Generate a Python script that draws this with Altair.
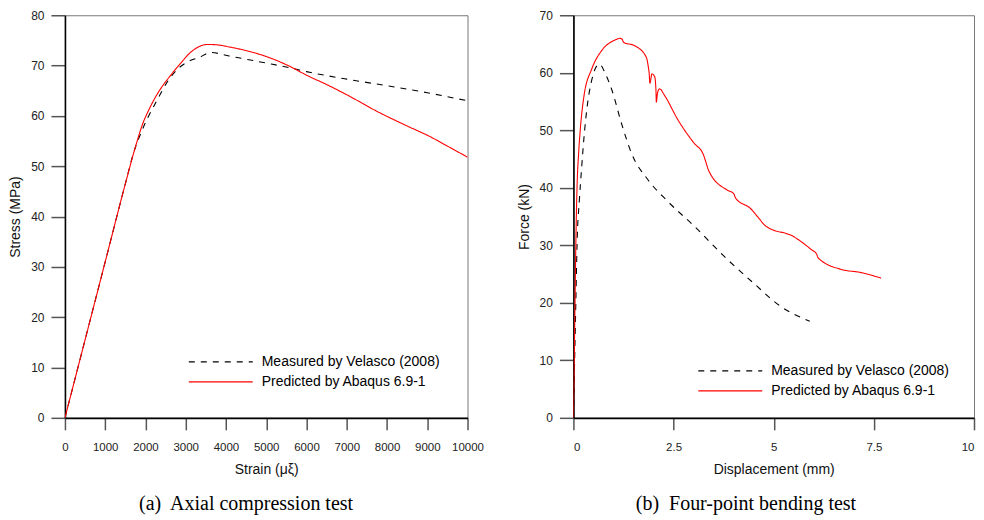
import altair as alt
import pandas as pd

series_names = ["Measured by Velasco (2008)", "Predicted by Abaqus 6.9-1"]
series_colors = ["#000000", "#ff0000"]

# (a) Axial compression test
a_meas_strain = [0, 500, 1000, 1500, 1700, 1930, 2260, 2590, 2840, 3090, 3330, 3620, 4080, 5000, 5560, 6000, 7000, 8000, 9000, 10000]
a_meas_stress = [0, 15.5, 31, 46.5, 52.5, 57.4, 62.7, 67.3, 69.6, 70.9, 71.6, 72.6, 71.9, 70.5, 69.6, 68.8, 67.3, 66.0, 64.6, 63.0]
a_pred_strain = [0, 500, 1000, 1500, 1760, 1930, 2090, 2260, 2420, 2590, 2750, 2920, 3090, 3250, 3400, 3540, 3800, 4080, 4490, 5000, 5570, 6000, 6560, 7000, 7800, 8500, 9040, 9500, 10000]
a_pred_stress = [0, 15.5, 31, 46.5, 54.1, 58.4, 61.3, 63.9, 65.9, 67.7, 69.3, 70.9, 72.4, 73.4, 74.0, 74.2, 74.1, 73.7, 73.0, 71.8, 69.9, 68.1, 66.0, 64.2, 60.7, 58.0, 56.0, 54.0, 51.8]

# (b) Four-point bending test
b_meas_disp = [0, 0.03, 0.06, 0.09, 0.15, 0.2, 0.28, 0.35, 0.45, 0.55, 0.65, 0.8, 0.96, 1.2, 1.45, 1.86, 2.36, 3.02, 3.76, 4.5, 5.17, 5.9]
b_meas_force = [0, 10, 20, 30, 38, 43, 50, 54.5, 58.5, 60.8, 61.5, 59.8, 57.0, 51.2, 46.0, 41.4, 37.6, 33.3, 28.1, 23.4, 19.4, 16.8]
b_pred_disp = [0, 0.02, 0.04, 0.06, 0.09, 0.13, 0.17, 0.26, 0.46, 0.71, 1.04, 1.16, 1.22, 1.25, 1.53, 1.82, 1.87, 1.89, 1.91, 1.96, 2.03, 2.06, 2.07, 2.1, 2.15, 2.28, 2.61, 3.02, 3.23, 3.39, 3.84, 4.0, 4.05, 4.42, 4.63, 4.79, 5.5, 5.95, 6.07, 6.11, 6.69, 7.15, 7.68]
b_pred_force = [0, 10, 20, 30, 40, 46, 50, 55.8, 60.7, 63.9, 65.7, 66.0, 65.8, 65.3, 64.7, 62.7, 61.0, 60.0, 58.2, 59.8, 59.3, 57.0, 54.9, 56.5, 57.2, 56.0, 51.8, 47.7, 46.0, 42.8, 39.6, 39.0, 38.2, 36.4, 34.7, 33.4, 31.5, 29.2, 28.5, 27.8, 25.8, 25.3, 24.3]

captions = ["(a)\u00a0 Axial compression test", "(b)\u00a0 Four-point bending test"]


def frame(xs_list, ys_list):
    rows = []
    for k, (xs, ys) in enumerate(zip(xs_list, ys_list)):
        for i, (x, y) in enumerate(zip(xs, ys)):
            rows.append({"x": x, "y": y, "series": series_names[k], "i": i})
    return pd.DataFrame(rows)


df_a = frame([a_meas_strain, a_pred_strain], [a_meas_stress, a_pred_stress])
df_b = frame([b_meas_disp, b_pred_disp], [b_meas_force, b_pred_force])

FONT = "Liberation Sans"
SERIF = "Liberation Serif"


def legend(x, y):
    return alt.Legend(
        title=None, orient="none", legendX=x, legendY=y,
        symbolType="M-6.4,0H6.4", symbolSize=100, symbolStrokeWidth=1.1,
        labelFont=FONT, labelFontSize=14, labelColor="#000", labelLimit=400,
        labelOffset=34, rowPadding=6, padding=0,
    )


def panel(df, xdomain, xvalues, xfmt, xtitle, ydomain, yvalues, ytitle, w, h, caption, lx, ly,
          xflush=False):
    color = alt.Color("series:N", scale=alt.Scale(domain=series_names, range=series_colors),
                      legend=legend(lx, ly))
    dash = alt.StrokeDash("series:N", scale=alt.Scale(domain=series_names, range=[[6, 6], [1, 0]]),
                          legend=legend(lx, ly))
    return alt.Chart(df).mark_line(strokeWidth=1.1, clip=True, interpolate="monotone").encode(
        x=alt.X("x:Q", scale=alt.Scale(domain=xdomain, nice=False, zero=False),
                axis=alt.Axis(values=xvalues, format=xfmt, title=xtitle, grid=False,
                              tickSize=12, labelPadding=12, titlePadding=9, labelFlush=xflush,
                              labelFontSize=11.5, titleFontSize=14)),
        y=alt.Y("y:Q", scale=alt.Scale(domain=ydomain, nice=False, zero=False),
                axis=alt.Axis(values=yvalues, title=ytitle, grid=False,
                              tickSize=14, labelPadding=7, titlePadding=8,
                              labelFontSize=12, titleFontSize=14)),
        color=color,
        strokeDash=dash,
        order="i:Q",
    ).properties(
        width=w, height=h,
        title=alt.TitleParams(caption, orient="bottom", anchor="middle", frame="bounds",
                              font=SERIF, fontSize=20, fontWeight="normal", color="#000", offset=18),
    )


left = panel(df_a, [0, 10000], list(range(0, 10001, 1000)), "d", "Strain (μξ)",
             [0, 80], list(range(0, 81, 10)), "Stress (MPa)", 403, 403, captions[0], 149, 340)
right = panel(df_b, [0, 10], [0, 2.5, 5, 7.5, 10], ".1~f", "Displacement (mm)",
              [0, 70], list(range(0, 71, 10)), "Force (kN)", 401, 403, captions[1], 150, 349,
              xflush=True)

chart = alt.hconcat(left, right, spacing=32).resolve_scale(
    color="independent", strokeDash="independent"
).resolve_legend(color="independent", strokeDash="independent").properties(
    padding={"left": 0, "top": 0, "right": 0, "bottom": 0}
).configure_view(
    stroke="#777", strokeWidth=1
).configure_axis(
    labelFont=FONT, titleFont=FONT, labelColor="#222", titleColor="#111",
    titleFontWeight="normal", domainColor="#000", domainWidth=1.6,
    tickColor="#555", tickWidth=1.5,
)

chart.save("out.html", embed_options={"renderer": "svg", "actions": False})
